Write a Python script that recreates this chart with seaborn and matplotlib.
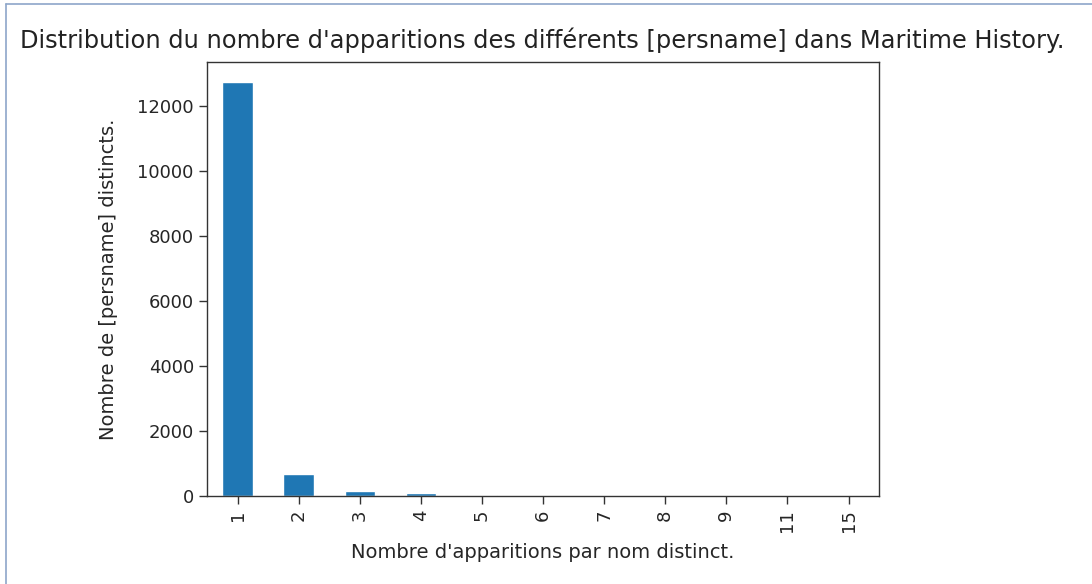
import matplotlib
matplotlib.use("Agg")
import matplotlib.pyplot as plt
import seaborn as sns
import pandas as pd
from matplotlib.lines import Line2D

# ── Data ─────────────────────────────────────────────────────────────────────
occurrences = ["1", "2", "3", "4", "5", "6", "7", "8", "9", "11", "15"]
name_counts = [12750, 690, 140, 80, 30, 15, 8, 5, 3, 1, 1]

df = pd.DataFrame({"occ": occurrences, "count": name_counts})

sns.set_style("ticks")
plt.rcParams["font.family"] = ["DejaVu Sans"]

fig = plt.figure(figsize=(10.92, 5.84), dpi=100)
ax = fig.add_axes([0.1896, 0.1507, 0.6154, 0.7431])

sns.barplot(data=df, x="occ", y="count", color="#1f77b4", saturation=1,
            width=0.5, ax=ax)

ax.set_xlim(-0.5, len(occurrences) - 0.5)
ax.set_ylim(0, 13366)
ax.set_yticks([0, 2000, 4000, 6000, 8000, 10000, 12000])
ax.tick_params(axis="both", labelsize=13, length=6, width=1, color="#333333",
               labelcolor="#262626")
ax.tick_params(axis="x", labelrotation=90)
ax.set_xlabel("Nombre d'apparitions par nom distinct.", fontsize=14,
              color="#262626", labelpad=8)
ax.set_ylabel("Nombre de [persname] distincts.", fontsize=14,
              color="#262626", labelpad=14)
for s in ax.spines.values():
    s.set_visible(True)
    s.set_linewidth(1.0)
    s.set_color("#333333")

# Notebook cell title and frame
fig.text(0.018, 0.918, "Distribution du nombre d'apparitions des différents [persname] dans Maritime History.",
         fontsize=17.4, ha="left", va="baseline", color="#222222")
fig.add_artist(Line2D([0.0055, 1], [0.994, 0.994], color="#8ea6c9", lw=1.2))
fig.add_artist(Line2D([0.0055, 0.0055], [0, 0.994], color="#8ea6c9", lw=1.2))

fig.savefig("out.png", dpi=100)
